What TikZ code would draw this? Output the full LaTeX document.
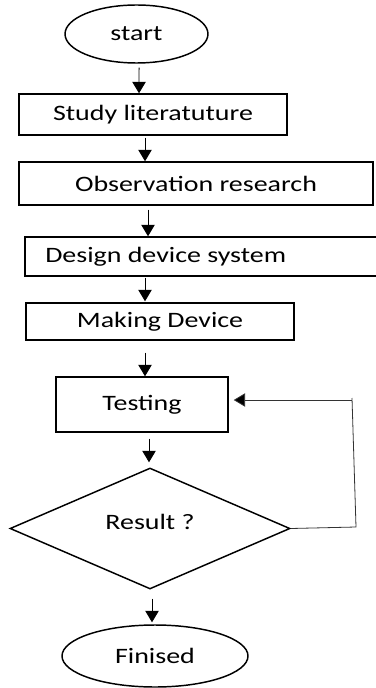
\documentclass[tikz,border=0pt]{standalone}
\usepackage{fontspec}
\setmainfont{Carlito}
\usetikzlibrary{shapes.geometric,arrows.meta}
\newcommand{\wtxt}[1]{\scalebox{1.27}[1]{#1}}
\begin{document}
\begin{tikzpicture}[x=0.75pt,y=-0.75pt,
  every node/.style={font=\fontsize{16.5}{18}\selectfont, inner sep=0pt},
  boxnode/.style={draw, line width=1.1pt, rectangle},
  ellnode/.style={draw, line width=1.1pt, ellipse},
  decnode/.style={draw, line width=1.1pt, diamond, shape aspect=2.3},
  arr/.style={line width=0.7pt, -{Triangle[length=8.5pt,width=10pt]}},
  fb/.style={line width=0.6pt, draw=black!80}]
\useasboundingbox (0,0) rectangle (375,688);
% nodes
\node[ellnode, minimum width=107.25pt, minimum height=43.5pt] (start) at (136.5,34) {\wtxt{start}};
\node[boxnode, minimum width=201pt, minimum height=30.75pt] (s1) at (153,114.5) {\wtxt{Study literatuture}};
\node[boxnode, minimum width=265.5pt, minimum height=32.25pt] (s2) at (196,183.5) {\wtxt{Observation research}};
\node[boxnode, minimum width=264pt, minimum height=29.25pt] (s3) at (201,256.5) {};
\node[anchor=west] (s3t) at (45,257) {\wtxt{Design device system}};
\node[boxnode, minimum width=201pt, minimum height=27.75pt] (s4) at (160,321.5) {\wtxt{Making Device}};
\node[boxnode, minimum width=129pt, minimum height=41.25pt] (test) at (142,404.5) {\wtxt{Testing}};
\node[decnode, minimum width=210pt, minimum height=90.75pt] (dec) at (150,528.5) {};
\node (dect) at (150,522) {\wtxt{Result ?}};
\node[ellnode, minimum width=139.5pt, minimum height=46.5pt] (fin) at (155,656) {\wtxt{Finised}};
% connectors
\draw[arr] ([xshift=1.9pt,yshift=-3pt]start.south) -- ([xshift=-10.5pt]s1.north);
\draw[arr] ([xshift=-6pt,yshift=-1.5pt]s1.south) -- ([xshift=-38.25pt]s2.north);
\draw[arr] ([xshift=-36pt,yshift=-3pt]s2.south) -- ([xshift=-39.75pt]s3.north);
\draw[arr] ([xshift=-42pt,yshift=-0.75pt]s3.south) -- ([xshift=-11.25pt,yshift=0.75pt]s4.north);
\draw[arr] ([xshift=-11.25pt,yshift=-9pt]s4.south) -- ([xshift=2.25pt]test.north);
\draw[arr] ([xshift=5.25pt,yshift=-4.5pt]test.south) -- ([xshift=-0.75pt,yshift=3.75pt]dec.north);
\draw[arr] ([xshift=1.5pt,yshift=-6.75pt]dec.south) -- ([xshift=-2.25pt,yshift=1.5pt]fin.north);
\coordinate (c1) at (356,527);
\coordinate (c2) at (352,398);
\draw[fb] (dec.east) -- (c1) -- (c2);
\draw[fb, -{Triangle[length=8.5pt,width=10pt,fill=black]}] (c2 |- 0,400) -- ([xshift=3.75pt]test.east |- 0,400);
\end{tikzpicture}
\end{document}
